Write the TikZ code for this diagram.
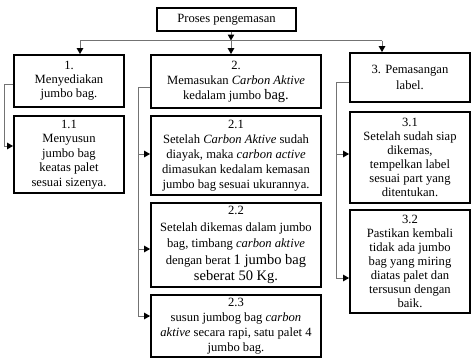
\documentclass[tikz,border=0pt]{standalone}
\usepackage{fontspec}
\setmainfont{Liberation Serif}
\usetikzlibrary{arrows.meta}
\begin{document}
\begin{tikzpicture}[x=1pt,y=-1pt,
  box/.style={draw=black, line width=1.8pt, align=center, inner sep=0pt,
    font=\fontsize{12.6}{14}\selectfont},
  conn/.style={draw=black!55, line width=1pt},
  arr/.style={conn, -{Triangle[black,length=6pt,width=6.5pt]}}]
\useasboundingbox (0,0) rectangle (474,359);
% boxes
\node[box, line width=1.4pt, minimum width=139, minimum height=23] (top) at (226.5,19.5) {Proses pengemasan};
\node[box, minimum width=110, minimum height=52] (b1) at (69,81) {1.\\Menyediakan\\jumbo bag.};
\node[box, minimum width=110, minimum height=77, font=\fontsize{12.6}{14.5}\selectfont] (b11) at (69,154.5) {1.1\\Menyusun\\jumbo bag\\keatas palet\\sesuai sizenya.};
\node[box, minimum width=170, minimum height=53, font=\fontsize{12.6}{15}\selectfont] (b2) at (236,81.5) {2.\\Memasukan \textit{Carbon Aktive}\\kedalam jumbo {\fontsize{14.5}{15}\selectfont bag.}};
\node[box, minimum width=170, minimum height=79, font=\fontsize{12.6}{15}\selectfont] (b21) at (236,155.5) {2.1\\Setelah \textit{Carbon Aktive} sudah\\diayak, maka \textit{carbon active}\\dimasukan kedalam kemasan\\jumbo bag sesuai ukurannya.};
\node[box, minimum width=170, minimum height=84, font=\fontsize{12.6}{16.5}\selectfont] (b22) at (236,245) {2.2\\Setelah dikemas dalam jumbo\\bag, timbang \textit{carbon aktive}\\dengan berat {\fontsize{14.5}{16.5}\selectfont 1 jumbo bag}\\{\fontsize{14.5}{16.5}\selectfont seberat 50 Kg.}};
\node[box, minimum width=170, minimum height=62, font=\fontsize{12.6}{15}\selectfont] (b23) at (236,326) {2.3\\susun jumbog bag \textit{carbon}\\\textit{aktive} secara rapi, satu palet 4\\jumbo bag.};
\node[box, minimum width=120, minimum height=49, font=\fontsize{12.6}{16}\selectfont] (b3) at (410,77.5) {3. Pemasangan\\label.};
\node[box, minimum width=120, minimum height=91] (b31) at (410,157.5) {3.1\\Setelah sudah siap\\dikemas,\\tempelkan label\\sesuai part yang\\ditentukan.};
\node[box, minimum width=120, minimum height=103] (b32) at (410,261.5) {3.2\\Pastikan kembali\\tidak ada jumbo\\bag yang miring\\diatas palet dan\\tersusun dengan\\baik.};
% top connectors
\coordinate (jn) at (231,40.5);
\coordinate (jl) at (80,40.5);
\coordinate (jr) at (382,40.5);
\draw[arr] (top.south -| jn) -- (jn);
\draw[conn] (jl) -- (jr);
\draw[arr] (jl) -- (jl |- b1.north);
\draw[arr] (jn) -- (jn |- b2.north);
\draw[arr] (jr) -- (jr |- b3.north);
% side connectors
\coordinate (s1) at (4,84);
\coordinate (s1b) at (4,146);
\draw[conn] (b1.west |- s1) -- (s1) -- (s1b);
\draw[arr] (s1b) -- (b11.west |- s1b);
\coordinate (s2) at (138,87);
\coordinate (s2a) at (138,154);
\coordinate (s2b) at (138,249);
\coordinate (s2c) at (138,316);
\draw[conn] (b2.west |- s2) -- (s2) -- (s2c);
\draw[arr] (s2a) -- (b21.west |- s2a);
\draw[arr] (s2b) -- (b22.west |- s2b);
\draw[arr] (s2c) -- (b23.west |- s2c);
\coordinate (s3) at (336,82);
\coordinate (s3a) at (336,154);
\coordinate (s3b) at (336,278);
\draw[conn] (b3.west |- s3) -- (s3) -- (s3b);
\draw[arr] (s3a) -- (b31.west |- s3a);
\draw[arr] (s3b) -- (b32.west |- s3b);
\end{tikzpicture}
\end{document}
